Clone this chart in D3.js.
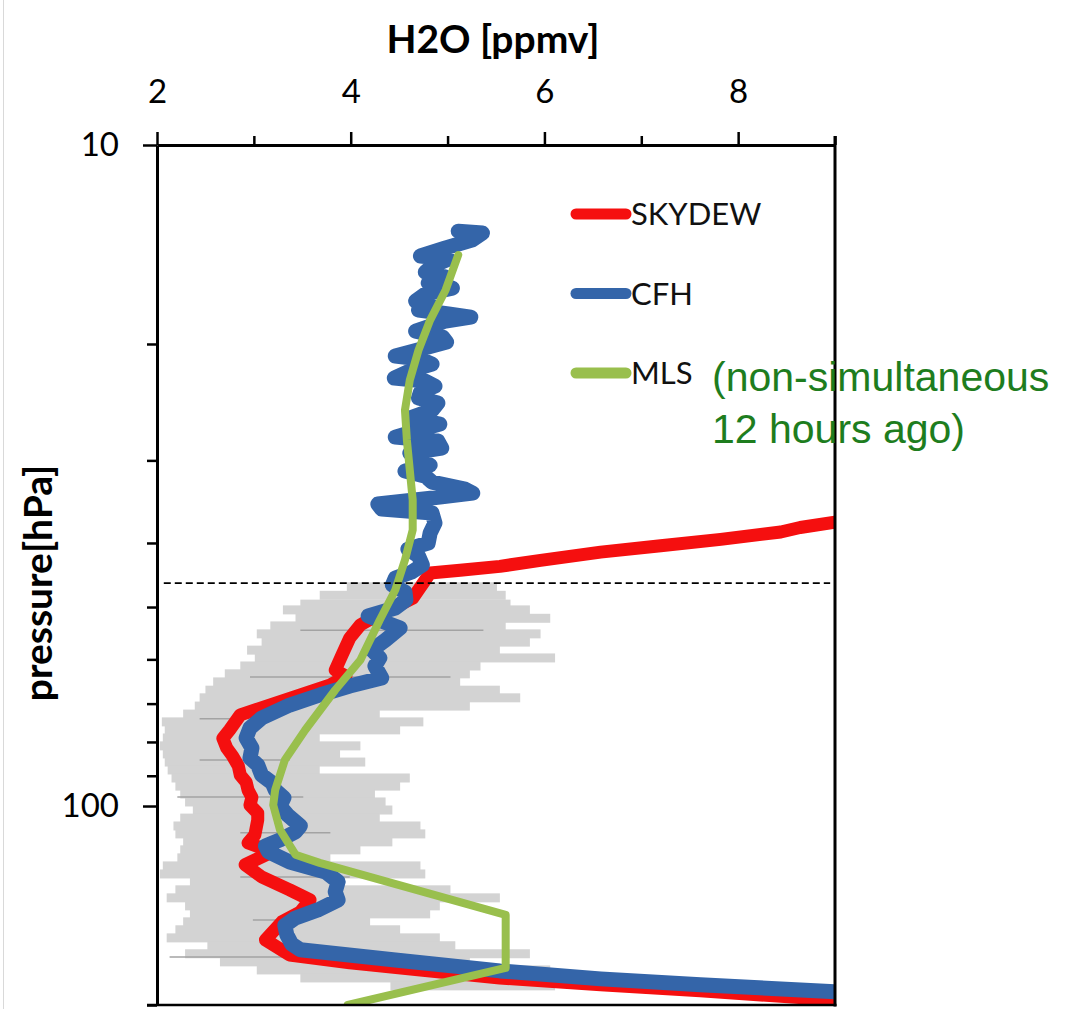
<!DOCTYPE html>
<html>
<head>
<meta charset="utf-8">
<script src="https://cdn.jsdelivr.net/npm/d3@7"></script>
<style>
  body { margin: 0; background: #fff; }
  svg { display: block; }
</style>
</head>
<body>
<svg id="chart" width="1066" height="1009"></svg>
<script>
    var xTicksMajor = [2, 4, 6, 8];
    var xTicksMinor = [3, 5, 7, 9];
    var yTicksMajor = [10, 100];
    var yTicksMinor = [20, 30, 40, 50, 60, 70, 80, 90, 200];

    // profiles as [H2O ppmv, pressure hPa]
    var skydew = [
        [9.00, 37.2], [8.64, 37.9], [8.44, 38.5], [7.82, 39.5], [7.20, 40.4], [6.58, 41.3],
        [5.96, 42.5], [5.54, 43.4], [5.13, 44.0], [4.82, 44.4], [4.77, 45.5], [4.70, 47.1],
        [4.64, 48.5], [4.46, 50.0], [4.28, 51.4], [4.10, 53.2], [3.99, 55.7], [3.91, 59.1],
        [3.84, 62.3], [3.95, 63.6], [3.79, 65.6], [3.48, 67.9], [3.17, 70.3], [2.86, 72.8],
        [2.75, 76.7], [2.68, 79.0], [2.72, 81.7], [2.78, 84.0], [2.84, 87.0], [2.86, 89.8],
        [2.92, 92.0], [2.94, 94.6], [2.98, 97.0], [2.96, 99.7], [3.04, 102.5], [3.04, 105.0],
        [3.01, 110.6], [2.94, 113.7], [3.19, 117.3], [2.91, 122.7], [3.08, 128.0],
        [3.37, 133.9], [3.58, 138.7], [3.48, 144.6], [3.29, 149.7], [3.12, 159.4], [3.37, 168.0],
        [3.99, 172.7], [4.72, 177.0], [5.54, 182.0], [6.58, 186.4], [7.61, 190.4], [9.00, 196.5]
    ];

    var cfh = [
        [5.11, 13.50], [5.36, 13.59], [5.25, 13.93], [4.98, 14.31], [4.72, 14.72], [5.01, 14.88],
        [4.84, 15.25], [4.77, 15.57], [4.98, 15.84], [4.80, 16.17], [5.05, 16.46], [4.77, 16.80],
        [4.67, 17.22], [4.84, 17.53], [4.70, 17.77], [5.01, 18.02], [5.24, 18.21], [4.98, 18.46],
        [4.67, 19.12], [4.95, 19.53], [4.99, 19.87], [4.80, 20.22], [4.46, 20.86], [4.72, 21.08],
        [4.84, 21.45], [4.63, 21.90], [4.45, 22.52], [4.77, 22.76], [4.87, 23.16], [4.72, 23.65],
        [4.70, 24.14], [4.90, 24.57], [4.84, 25.18], [4.61, 25.89], [4.92, 26.44], [4.70, 27.00],
        [4.46, 27.66], [4.90, 28.05], [4.94, 28.74], [4.61, 29.25], [4.70, 29.97], [4.82, 30.50],
        [4.56, 31.14], [4.77, 31.69], [4.84, 32.36], [5.18, 33.16], [5.26, 33.62], [4.92, 34.09],
        [4.28, 34.93], [4.32, 35.54], [4.84, 36.04], [4.87, 37.32], [4.82, 38.64], [4.80, 40.01],
        [4.59, 40.86], [4.70, 41.87], [4.74, 43.20], [4.63, 44.26], [4.46, 45.19], [4.43, 46.31],
        [4.56, 47.45], [4.57, 48.79], [4.46, 50.17], [4.18, 51.59], [4.51, 53.80], [4.36, 56.09],
        [4.22, 58.07], [4.30, 59.71], [4.25, 61.40], [4.32, 64.03], [3.99, 65.84], [3.68, 67.93],
        [3.37, 70.34], [3.08, 73.59], [2.96, 76.20], [2.92, 78.90], [2.98, 81.70], [2.96, 84.60],
        [3.04, 86.70], [3.08, 89.75], [3.19, 92.30], [3.22, 94.55], [3.31, 97.20], [3.27, 100.0],
        [3.35, 103.2], [3.48, 107.2], [3.43, 109.4], [3.27, 112.5], [3.12, 114.9], [3.15, 117.3],
        [3.37, 121.5], [3.74, 125.8], [3.87, 130.2], [3.84, 134.8], [3.87, 138.7], [3.66, 143.6],
        [3.43, 147.7], [3.32, 151.6], [3.34, 156.6], [3.39, 161.7], [3.48, 165.0], [4.46, 171.0],
        [5.54, 177.6], [6.58, 182.6], [7.61, 186.4], [9.00, 191.0]
    ];

    var mls = [
        [5.11, 14.67], [4.98, 16.57], [4.82, 18.40], [4.70, 20.43], [4.61, 22.68], [4.56, 25.18],
        [4.58, 27.95], [4.61, 31.03], [4.64, 34.44], [4.64, 38.24], [4.56, 42.45], [4.46, 47.12],
        [4.30, 52.31], [4.10, 60.13], [3.84, 66.75], [3.53, 76.73], [3.32, 85.18], [3.22, 94.55],
        [3.20, 99.65], [3.27, 108.7], [3.43, 118.5], [3.68, 121.9], [5.60, 146.1], [5.60, 175.8],
        [3.97, 200]
    ];

    // SKYDEW uncertainty range (grey)
    var bandP = [46.6, 48.0, 49.5, 50.5, 52.0, 53.4, 54.9, 56.5, 58.1, 59.7, 61.4, 63.1, 64.9,
        66.8, 68.6, 70.6, 72.6, 74.6, 76.7, 78.9, 81.1, 83.4, 85.8, 88.2, 90.7, 93.3, 95.9, 98.6,
        101.4, 104.3, 107.2, 110.2, 113.3, 116.5, 119.8, 123.2, 126.7, 130.2, 133.9, 137.7, 141.6,
        145.6, 149.7, 153.9, 158.3, 162.7, 167.3, 172.1, 177.0, 182.0, 187.1];
    var bandLo = [3.96, 3.68, 3.48, 3.30, 3.43, 3.17, 3.03, 3.08, 2.93, 3.01, 2.86, 2.70, 2.58,
        2.50, 2.44, 2.39, 2.27, 2.05, 2.08, 2.06, 2.03, 2.06, 2.08, 2.11, 2.15, 2.19, 2.24, 2.29,
        2.37, 2.24, 2.17, 2.19, 2.27, 2.24, 2.21, 2.06, 2.03, 2.34, 2.19, 2.10, 2.29,
        2.34, 2.27, 2.19, 2.10, 2.52, 2.29, 2.65, 3.03, 3.48, 4.41];
    var bandHi = [5.51, 5.60, 5.65, 5.85, 6.06, 5.60, 5.96, 5.85, 5.54, 6.11, 5.34, 5.23, 5.13,
        5.54, 5.75, 5.23, 4.30, 4.75, 4.51, 3.68, 4.10, 3.89, 4.15, 3.68, 4.61, 4.51, 4.25, 4.36,
        4.43, 4.30, 4.72, 4.77, 4.43, 4.10, 3.79, 4.72, 4.77, 3.84, 5.03, 5.54, 4.92,
        4.82, 4.20, 4.51, 4.92, 5.08, 5.85, 5.23, 6.06, 6.01, 6.11];

    var streakP = [54.2, 63.8, 73.8, 85.2, 96.9, 109.8, 128.0, 148.7, 169.2];
    var streakLo = [3.48, 2.96, 2.44, 2.44, 2.21, 2.86, 2.86, 2.99, 2.13];
    var streakHi = [5.37, 5.03, 2.79, 3.37, 3.51, 3.79, 3.99, 3.37, 3.48];

    var tropopause = 46;

    var seriesNames = ["SKYDEW", "CFH", "MLS"];
    var seriesColors = ["#f50f0f", "#3465a9", "#99bf4d"];

    var svg = d3.select("#chart");
    var x = d3.scaleLinear().domain([2, 9]).range([157, 835]);
    var y = d3.scaleLog().domain([10, 200]).range([145, 1005]);

    svg.append("line")
        .attr("x1", 3.5).attr("x2", 3.5).attr("y1", 0).attr("y2", 1009)
        .attr("stroke", "#d9d9d9").attr("stroke-width", 1);

    svg.append("clipPath").attr("id", "plotclip")
        .append("rect")
        .attr("x", x(2)).attr("y", y(10))
        .attr("width", x(9) - x(2)).attr("height", y(200) - y(10));

    var plot = svg.append("g").attr("clip-path", "url(#plotclip)");

    plot.selectAll("rect.band").data(bandP).enter().append("rect")
        .attr("class", "band")
        .attr("x", function(d, i) { return x(bandLo[i]); })
        .attr("width", function(d, i) { return x(bandHi[i]) - x(bandLo[i]); })
        .attr("y", function(d) { return y(d) - 4.5; })
        .attr("height", 9)
        .attr("fill", "#d3d3d3");

    plot.selectAll("line.streak").data(streakP).enter().append("line")
        .attr("class", "streak")
        .attr("x1", function(d, i) { return x(streakLo[i]); })
        .attr("x2", function(d, i) { return x(streakHi[i]); })
        .attr("y1", function(d) { return y(d); })
        .attr("y2", function(d) { return y(d); })
        .attr("stroke", "#a3a3a3").attr("stroke-width", 1.5);

    var line = d3.line()
        .x(function(d) { return x(d[0]); })
        .y(function(d) { return y(d[1]); });

    plot.append("path").datum(skydew)
        .attr("d", line)
        .attr("fill", "none").attr("stroke", seriesColors[0])
        .attr("stroke-width", 13).attr("stroke-linejoin", "round").attr("stroke-linecap", "round");

    plot.append("path").datum(cfh)
        .attr("d", line)
        .attr("fill", "none").attr("stroke", seriesColors[1])
        .attr("stroke-width", 15).attr("stroke-linejoin", "round").attr("stroke-linecap", "round");

    plot.append("path").datum(mls)
        .attr("d", line)
        .attr("fill", "none").attr("stroke", seriesColors[2])
        .attr("stroke-width", 8).attr("stroke-linejoin", "round").attr("stroke-linecap", "round");

    svg.append("line")
        .attr("x1", x(2.07)).attr("x2", x(8.95))
        .attr("y1", y(tropopause)).attr("y2", y(tropopause))
        .attr("stroke", "#000").attr("stroke-width", 1.8).attr("stroke-dasharray", "7,4");

    // axes
    var font = "Lato, 'Open Sans', sans-serif";

    svg.append("g").attr("transform", "translate(0," + y(10) + ")")
        .call(d3.axisTop(x).tickValues(xTicksMajor).tickSize(13).tickSizeOuter(0)
            .tickPadding(29).tickFormat(d3.format("d")));
    var topMinor = svg.append("g").attr("transform", "translate(0," + y(10) + ")")
        .call(d3.axisTop(x).tickValues(xTicksMinor).tickSize(9).tickFormat(""));
    topMinor.select(".domain").remove();

    svg.append("g").attr("transform", "translate(" + x(2) + ",0)")
        .call(d3.axisLeft(y).tickValues(yTicksMajor).tickSize(14).tickSizeOuter(0)
            .tickPadding(24).tickFormat(d3.format("d")));
    var leftMinor = svg.append("g").attr("transform", "translate(" + x(2) + ",0)")
        .call(d3.axisLeft(y).tickValues(yTicksMinor).tickSize(10).tickFormat(""));
    leftMinor.select(".domain").remove();

    svg.selectAll(".domain").attr("stroke", "#000").attr("stroke-width", 3);
    svg.selectAll(".tick line").attr("stroke", "#000").attr("stroke-width", 2.5);
    svg.selectAll(".tick text")
        .attr("fill", "#000")
        .style("font-family", font)
        .style("font-size", "33px");

    svg.append("line")
        .attr("x1", x(9)).attr("x2", x(9)).attr("y1", y(10) - 9).attr("y2", y(200) + 1.5)
        .attr("stroke", "#000").attr("stroke-width", 3);
    svg.append("line")
        .attr("x1", x(2) - 10).attr("x2", x(9) + 1.5).attr("y1", y(200)).attr("y2", y(200))
        .attr("stroke", "#000").attr("stroke-width", 2.5);

    svg.append("text")
        .attr("x", 493).attr("y", 53)
        .attr("text-anchor", "middle")
        .style("font-family", font).style("font-weight", "bold").style("font-size", "39px")
        .text("H2O [ppmv]");

    svg.append("text")
        .attr("transform", "translate(52,583) rotate(-90)")
        .attr("text-anchor", "middle")
        .style("font-family", font).style("font-weight", "bold").style("font-size", "39px")
        .text("pressure[hPa]");

    // legend
    var legend = svg.selectAll("g.legend").data(seriesNames).enter().append("g")
        .attr("class", "legend")
        .attr("transform", function(d, i) { return "translate(576," + (214 + i * 79.5) + ")"; });
    legend.append("line")
        .attr("x1", 0).attr("x2", 50).attr("y1", 0).attr("y2", 0)
        .attr("stroke", function(d, i) { return seriesColors[i]; })
        .attr("stroke-width", 11).attr("stroke-linecap", "round");
    legend.append("text")
        .attr("x", 55).attr("y", 11)
        .style("font-family", font).style("font-size", "31px").attr("fill", "#111")
        .text(function(d) { return d; });

    var note = svg.append("text")
        .style("font-family", "'Liberation Sans', Arial, sans-serif")
        .style("font-size", "41px").attr("fill", "#1e7d1e");
    note.append("tspan").attr("x", 712).attr("y", 391).text("(non-simultaneous");
    note.append("tspan").attr("x", 712).attr("y", 443).text("12 hours ago)");
</script>
</body>
</html>
